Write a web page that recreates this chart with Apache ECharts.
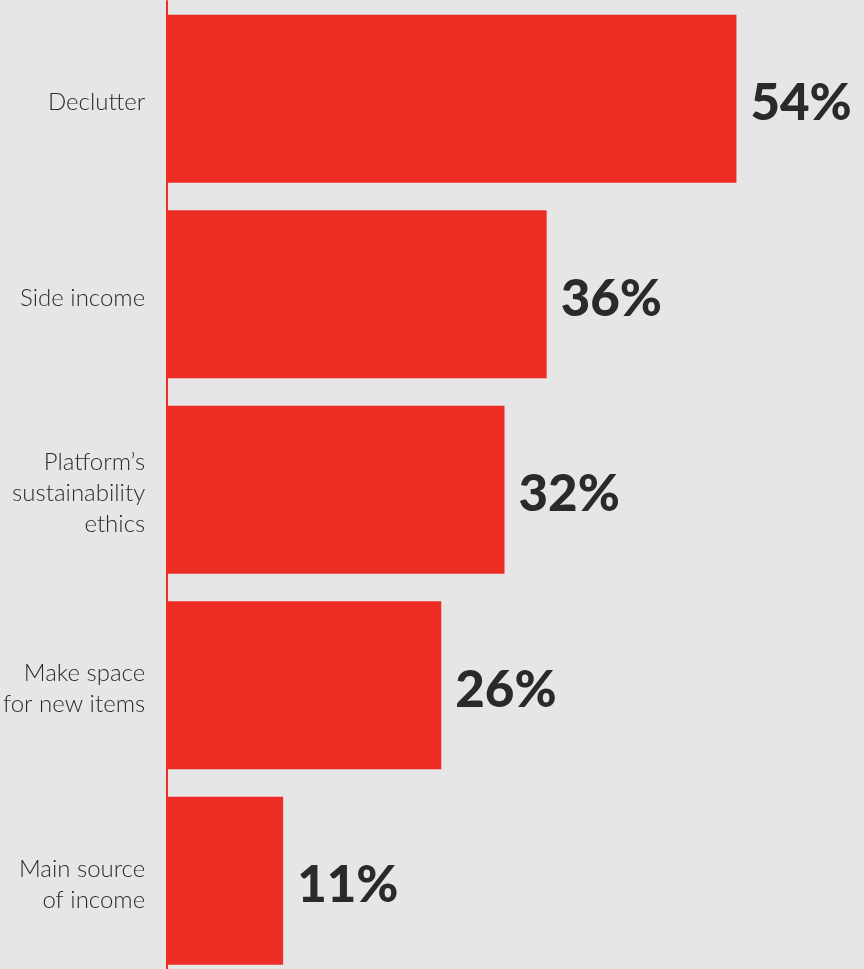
<!DOCTYPE html>
<html>
<head>
<meta charset="utf-8">
<style>
  html, body { margin: 0; padding: 0; background: #e6e6e6; overflow: hidden; }
  /* canvas is a little taller than the window so the last band runs past the bottom edge */
  #chart { width: 864px; height: 979px; }
</style>
<script src="https://cdn.jsdelivr.net/npm/echarts@6/dist/echarts.min.js"></script>
</head>
<body>
<div id="chart"></div>
<script>
// Reasons for selling, share of respondents (%)
const categories = [
  'Declutter',
  'Side income',
  'Platform\u2019s\nsustainability\nethics',
  'Make space\nfor new items',
  'Main source\nof income'
];
const shares = [54, 36, 32, 26, 11];

const chart = echarts.init(document.getElementById('chart'), null, { renderer: 'canvas' });

chart.setOption({
  backgroundColor: '#e6e6e6',
  animation: false,
  grid: { left: 167, width: 685.4, top: 1, height: 977.5, containLabel: false },
  xAxis: {
    type: 'value',
    min: 0,
    max: 65,
    show: false
  },
  yAxis: {
    type: 'category',
    inverse: true,
    data: categories,
    axisLine: { show: true, lineStyle: { color: '#ee2e24', width: 2 } },
    axisTick: { show: false },
    splitLine: { show: false },
    axisLabel: {
      margin: 22,
      align: 'right',
      color: '#2b2b2b',
      fontFamily: 'Lato',
      fontWeight: 300,
      fontSize: 24,
      lineHeight: 31,
      // thin spacer line on top nudges each label slightly below the bar centre
      formatter: v => '{gap| }\n' + v,
      rich: {
        gap: { fontSize: 1, lineHeight: 8 }
      }
    }
  },
  series: [{
    type: 'bar',
    data: shares,
    barCategoryGap: '14%',
    itemStyle: { color: '#ee2e24' },
    label: {
      show: true,
      position: 'right',
      distance: 14,
      offset: [0, 5],
      formatter: p => p.value + '%',
      color: '#2a2a2a',
      fontFamily: 'Lato',
      fontWeight: 900,
      fontSize: 51
    }
  }]
});
</script>
</body>
</html>
